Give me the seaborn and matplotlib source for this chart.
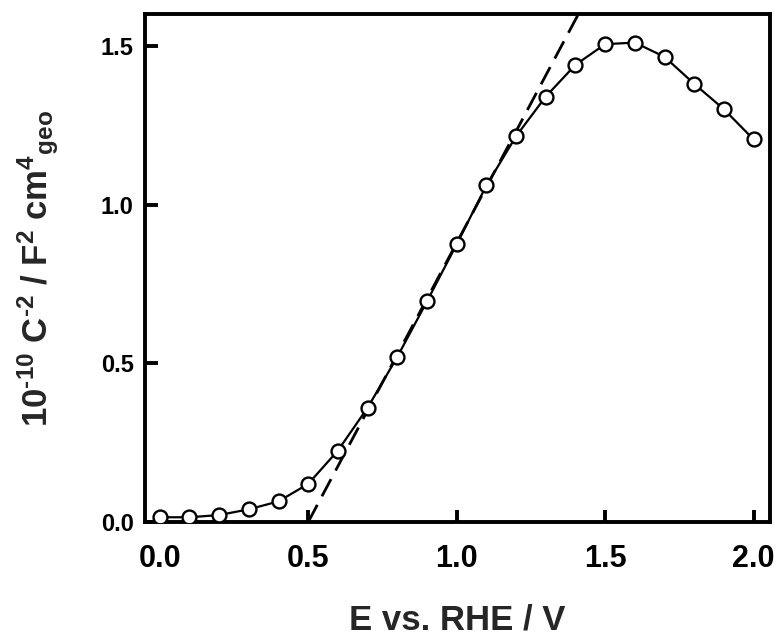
import matplotlib
matplotlib.use("Agg")
import matplotlib.pyplot as plt
import seaborn as sns
import pandas as pd

# data
potential = [0.0, 0.1, 0.2, 0.3, 0.4, 0.5, 0.6, 0.7, 0.8, 0.9, 1.0,
             1.1, 1.2, 1.3, 1.4, 1.5, 1.6, 1.7, 1.8, 1.9, 2.0]
inv_cap_sq = [0.015, 0.015, 0.022, 0.040, 0.065, 0.120, 0.225, 0.360, 0.520, 0.695, 0.875,
              1.060, 1.215, 1.340, 1.440, 1.505, 1.510, 1.465, 1.380, 1.300, 1.205]
fit_x = [0.5, 1.41]
fit_y = [0.0, 1.6]
x_ticks = [0.0, 0.5, 1.0, 1.5, 2.0]
y_ticks = [0.0, 0.5, 1.0, 1.5]

sns.set_theme(style="ticks")
plt.rcParams['font.family'] = ['Liberation Sans', 'DejaVu Sans']
plt.rcParams['font.weight'] = 'bold'
plt.rcParams['mathtext.fontset'] = 'custom'
plt.rcParams['mathtext.rm'] = 'Liberation Sans:bold'
plt.rcParams['mathtext.it'] = 'Liberation Sans:bold'
plt.rcParams['mathtext.bf'] = 'Liberation Sans:bold'
plt.rcParams['mathtext.default'] = 'rm'

df = pd.DataFrame({"E": potential, "C": inv_cap_sq})
fit = pd.DataFrame({"E": fit_x, "C": fit_y})

fig = plt.figure(figsize=(7.79, 6.37), dpi=100)
ax = fig.add_axes([0.186, 0.1805, 0.802, 0.7975])

sns.lineplot(data=fit, x="E", y="C", ax=ax, color="black", lw=2.0,
             dashes=False, linestyle=(0, (7, 3.5)), zorder=2)
sns.lineplot(data=df, x="E", y="C", ax=ax, color="black", lw=1.6,
             marker="o", markersize=10, markerfacecolor="white",
             markeredgecolor="black", markeredgewidth=1.7, zorder=3)

ax.set_xlim(-0.05, 2.054)
ax.set_ylim(0, 1.6)
ax.set_xticks(x_ticks)
ax.set_yticks(y_ticks)
ax.set_xticklabels([f"{v:.1f}" for v in x_ticks], fontsize=22, fontweight='bold')
ax.set_yticklabels([f"{v:.1f}" for v in y_ticks], fontsize=17, fontweight='bold')
ax.tick_params(axis='both', direction='in', length=9, width=2.8, colors='black')
ax.tick_params(axis='x', pad=16)
ax.tick_params(axis='y', pad=8)
ax.tick_params(top=False, right=False)

for s in ax.spines.values():
    s.set_linewidth(2.8)
    s.set_color('black')
    s.set_visible(True)

ax.set_xlabel("E vs. RHE / V", fontsize=25, fontweight='bold')
ax.xaxis.set_label_coords(0.5, -0.16)
ax.set_ylabel(r"10$^{\text{-10}}$ C$^{\text{-2}}$ / F$^{2}$ cm$^{4}$$_{geo}$", fontsize=25,
              fontweight='bold')
ax.yaxis.set_label_coords(-0.135, 0.5)

fig.savefig("out.png", dpi=100)
